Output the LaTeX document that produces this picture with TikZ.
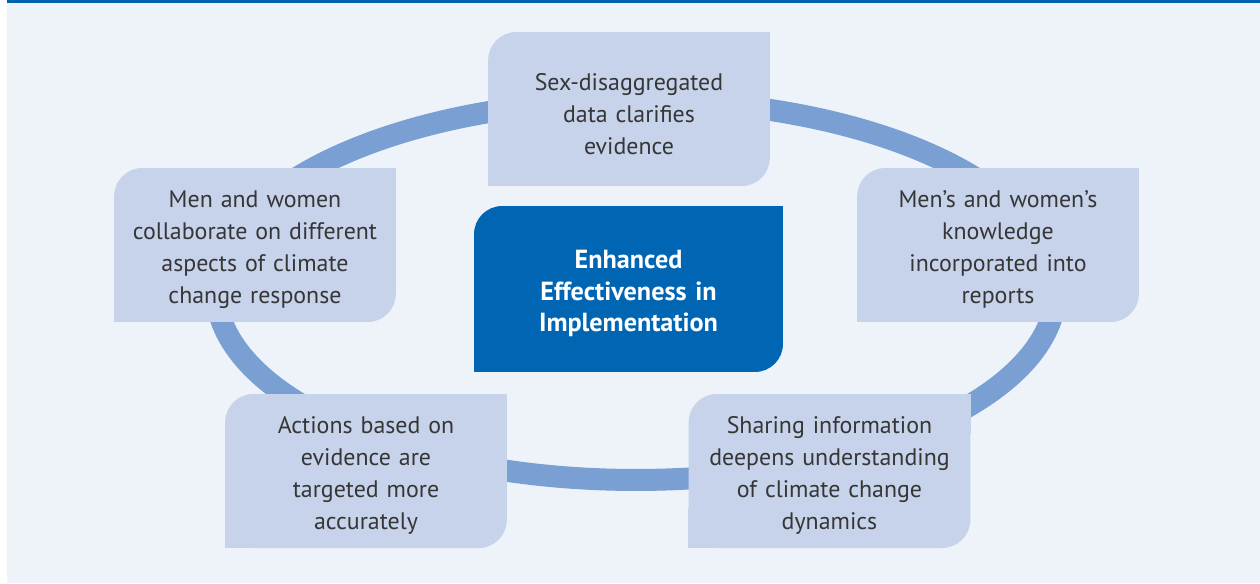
\documentclass[tikz,border=0pt]{standalone}
\usepackage{fontspec}
\setmainfont{PT Sans}
\definecolor{pagebg}{HTML}{EEF3FA}
\definecolor{topline}{HTML}{0062AC}
\definecolor{boxblue}{HTML}{C6D3EA}
\definecolor{ringblue}{HTML}{7AA0D3}
\definecolor{darkbox}{HTML}{0066B3}
\definecolor{txtgrey}{HTML}{363636}
\tikzset{
  leaf/.style={fill=boxblue,rounded corners=16pt,minimum width=5.6cm,minimum height=3.08cm,
    text width=5.4cm,align=center,text=txtgrey,inner ysep=0pt,
    execute at begin node={\rule{0pt}{15pt}},
    font=\fontsize{13.6}{18.2}\selectfont},
  core/.style={fill=darkbox,rounded corners=16pt,minimum width=6.18cm,minimum height=3.32cm,
    text width=5.9cm,align=center,text=white,inner ysep=0pt,
    execute at begin node={\rule{0pt}{15.5pt}},
    font=\fontsize{14.9}{18.2}\selectfont\bfseries},
  ring/.style={draw=ringblue,line width=0.44cm}
}
\begin{document}
\begin{tikzpicture}[x=0.02cm,y=-0.02cm]

    % --------------------------------------------------------- %
    % ------------- page background
    % --------------------------------------------------------- %
    \useasboundingbox (0,0) rectangle (1260,583);
    \fill[white] (0,0) rectangle (1260,583);
    \fill[pagebg] (7,0) rectangle (1260,583);
    \fill[topline] (7,0) rectangle (1260,3);

    % --------------------------------------------------------- %
    % ------------- ring
    % --------------------------------------------------------- %
    \draw[ring] (636,290) ellipse [x radius=8.4cm,y radius=3.8cm];

    % --------------------------------------------------------- %
    % ------------- boxes on the ring
    % --------------------------------------------------------- %
    \node[leaf] (data) at (629,109) {Sex-disaggregated\\data clarifies\\evidence};
    \node[leaf] (know) at (998,245) {Men’s and women’s\\knowledge\\incorporated into\\reports};
    \node[leaf] (share) at (829.5,471) {Sharing information\\deepens understanding\\of climate change\\dynamics};
    \node[leaf] (act) at (366,471) {Actions based on\\evidence are\\targeted more\\accurately};
    \node[leaf] (collab) at (255,245) {Men and women\\collaborate on different\\aspects of climate\\change response};

    % square off the other two corners
    \foreach \n in {data,know,share,act,collab} {
      \fill[boxblue] (\n.north east) rectangle ++(-40,40);
      \fill[boxblue] (\n.south west) rectangle ++(40,-40);
    }

    % --------------------------------------------------------- %
    % ------------- centre box
    % --------------------------------------------------------- %
    \node[core] (centre) at (628.5,289) {Enhanced\\Effectiveness in\\Implementation};
    \fill[darkbox] (centre.north east) rectangle ++(-40,40);
    \fill[darkbox] (centre.south west) rectangle ++(40,-40);

  \end{tikzpicture}
\end{document}
